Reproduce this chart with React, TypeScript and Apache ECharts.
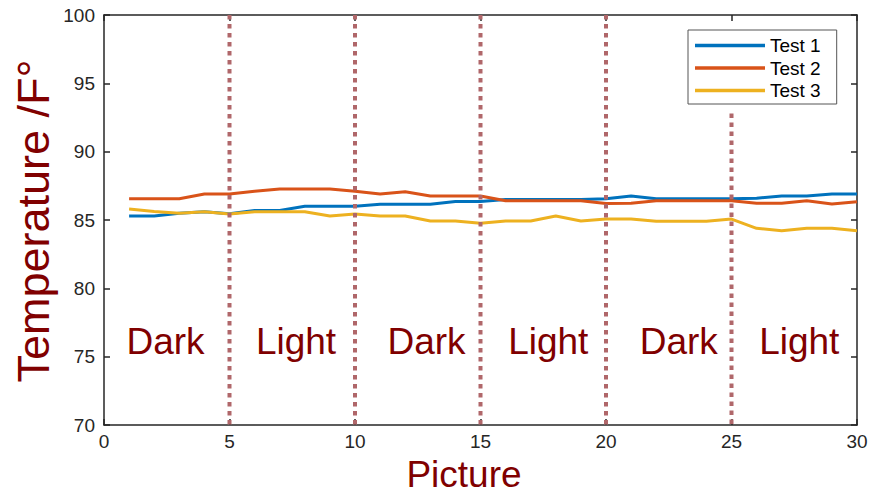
import React, { useEffect, useRef } from "react";
import * as echarts from "echarts";

const pictures = [1,2,3,4,5,6,7,8,9,10,11,12,13,14,15,16,17,18,19,20,21,22,23,24,25,26,27,28,29,30];
const test1 = [85.3, 85.3, 85.5, 85.6, 85.45, 85.7, 85.7, 86.0, 86.0, 86.0, 86.15, 86.15, 86.15, 86.35, 86.35, 86.5, 86.5, 86.5, 86.5, 86.55, 86.75, 86.55, 86.55, 86.55, 86.55, 86.6, 86.75, 86.75, 86.9, 86.9];
const test2 = [86.55, 86.55, 86.55, 86.9, 86.9, 87.1, 87.27, 87.27, 87.27, 87.1, 86.9, 87.07, 86.76, 86.76, 86.76, 86.41, 86.41, 86.41, 86.41, 86.2, 86.22, 86.41, 86.41, 86.41, 86.41, 86.22, 86.22, 86.41, 86.17, 86.34];
const test3 = [85.8, 85.63, 85.49, 85.6, 85.44, 85.6, 85.6, 85.6, 85.29, 85.44, 85.29, 85.29, 84.93, 84.93, 84.76, 84.93, 84.93, 85.29, 84.93, 85.07, 85.07, 84.9, 84.9, 84.9, 85.07, 84.39, 84.22, 84.39, 84.39, 84.22];
const seriesNames = ["Test 1", "Test 2", "Test 3"];
const seriesColors = ["#0072BD", "#D95319", "#EDB120"];

const dividerX = [5, 10, 15, 20, 25];
const dividerTop = [100, 100, 100, 100, 92.8];
const dividerBottom = 70;

const regionX = [2.45, 7.65, 12.85, 17.7, 22.9, 27.7];
const regionY = [76.1, 76.1, 76.1, 76.1, 76.1, 76.1];
const regionText = ["Dark", "Light", "Dark", "Light", "Dark", "Light"];

const xTicks = { min: 0, max: 30, interval: 5 };
const yTicks = { min: 70, max: 100, interval: 5 };

const FONT = "Liberation Sans, Arial, Helvetica, sans-serif";
const AXIS_COLOR = "#262626";

export default function App() {
  const ref = useRef<HTMLDivElement>(null);
  useEffect(() => {
    document.body.style.margin = "0";
    const chart = echarts.init(ref.current!, undefined, { renderer: "svg" });
    const dataSets = [test1, test2, test3];
    const lineSeries = dataSets.map((vals, i) => ({
      name: seriesNames[i],
      type: "line",
      data: pictures.map((p, j) => [p, vals[j]]),
      symbol: "none",
      lineStyle: { width: 3, color: seriesColors[i] },
      itemStyle: { color: seriesColors[i] },
      z: 2 + i,
    }));
    const dividerSeries = dividerX.map((x, i) => ({
      name: "div" + i,
      type: "line",
      data: [[x, dividerTop[i]], [x, dividerBottom]],
      symbol: "none",
      lineStyle: { width: 4, color: "#b0676a", type: [4.5, 4.5], cap: "butt" },
      z: 10,
      silent: true,
    }));
    const baseX = {
      type: "value",
      min: xTicks.min,
      max: xTicks.max,
      interval: xTicks.interval,
      splitLine: { show: false },
      axisLine: { show: true, onZero: false, lineStyle: { color: AXIS_COLOR, width: 1.5 } },
      axisTick: { show: true, inside: true, length: 6, lineStyle: { color: AXIS_COLOR, width: 1.5 } },
    };
    const baseY = {
      type: "value",
      min: yTicks.min,
      max: yTicks.max,
      interval: yTicks.interval,
      splitLine: { show: false },
      axisLine: { show: true, onZero: false, lineStyle: { color: AXIS_COLOR, width: 1.5 } },
      axisTick: { show: true, inside: true, length: 6, lineStyle: { color: AXIS_COLOR, width: 1.5 } },
    };
    chart.setOption({
      animation: false,
      grid: { left: 104, right: 14, top: 15, bottom: 70, containLabel: false },
      xAxis: [
        {
          ...baseX,
          position: "bottom",
          axisLabel: { color: AXIS_COLOR, fontSize: 19, fontFamily: FONT, margin: 7 },
        },
        { ...baseX, position: "top", axisLabel: { show: false } },
      ],
      yAxis: [
        {
          ...baseY,
          position: "left",
          axisLabel: { color: AXIS_COLOR, fontSize: 19, fontFamily: FONT, margin: 9 },
        },
        { ...baseY, position: "right", axisLabel: { show: false } },
      ],
      legend: {
        data: seriesNames.map((n) => ({ name: n, icon: "rect" })),
        orient: "vertical",
        left: 688,
        top: 30,
        itemWidth: 70,
        itemHeight: 3.5,
        itemGap: 3.5,
        padding: [6, 16, 4, 7],
        backgroundColor: "#ffffff",
        borderColor: "#555555",
        borderWidth: 1,
        borderRadius: 0,
        textStyle: { fontSize: 19, color: "#000000", fontFamily: FONT, padding: [0, 0, 0, 0] },
      },
      series: [
        ...lineSeries,
        ...dividerSeries,
        {
          name: "regions",
          type: "scatter",
          data: regionX.map((x, i) => [x, regionY[i], regionText[i]]),
          symbolSize: 1,
          itemStyle: { color: "rgba(0,0,0,0)", opacity: 1 },
          silent: true,
          z: 12,
          label: {
            show: true,
            position: "inside",
            formatter: (p: any) => p.data[2],
            fontSize: 37,
            color: "#800000",
            opacity: 1,
            fontFamily: FONT,
          },
        },
      ],
      graphic: [
        {
          type: "text",
          x: 33,
          y: 221,
          rotation: Math.PI / 2,
          style: {
            text: "Temperature /F°",
            fontSize: 45,
            fontFamily: FONT,
            fill: "#800000",
            textAlign: "center",
            textVerticalAlign: "middle",
          },
        },
        {
          type: "text",
          x: 464,
          y: 474,
          style: {
            text: "Picture",
            fontSize: 37,
            fontFamily: FONT,
            fill: "#800000",
            textAlign: "center",
            textVerticalAlign: "middle",
          },
        },
      ],
    });
    return () => chart.dispose();
  }, []);
  return <div ref={ref} style={{ width: 871, height: 495 }} />;
}
